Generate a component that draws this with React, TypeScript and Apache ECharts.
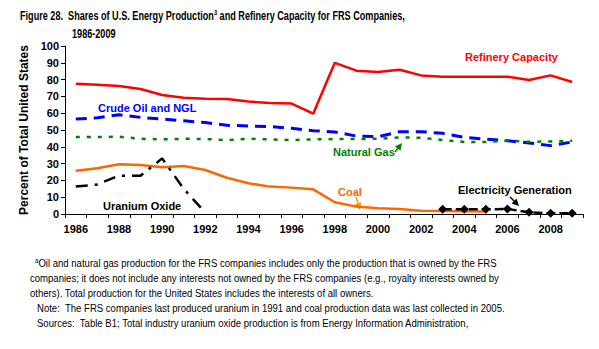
import React, { useEffect, useRef } from "react";
import * as echarts from "echarts";

const years = ["1986","1987","1988","1989","1990","1991","1992","1993","1994","1995","1996","1997","1998","1999","2000","2001","2002","2003","2004","2005","2006","2007","2008","2009"];
const refinery = [77.6, 77, 76.2, 74.4, 70.8, 69.2, 68.6, 68.5, 66.9, 66.1, 65.7, 59.7, 90, 85.3, 84.5, 85.9, 82.5, 81.7, 81.7, 81.7, 81.7, 79.8, 82.5, 78.6];
const crudeOil = [56.5, 57.3, 59.1, 57.5, 56.5, 55.5, 54.4, 52.8, 52.4, 52, 51, 49.6, 48.8, 46.4, 46, 49, 49, 48, 45.6, 44.6, 43.6, 42.3, 40.7, 42.9];
const naturalGas = [45.8, 45.8, 46, 44.8, 44.4, 44.8, 44.6, 44, 44.8, 44.4, 44, 44.4, 44.6, 44.6, 44.8, 45.6, 45.4, 44, 42.9, 42.9, 43.6, 43, 43.2, 43.6];
const coal = [25.8, 27.2, 29.6, 29.2, 27.8, 28.6, 26.2, 21.6, 18.3, 16.3, 15.7, 14.7, 7, 4.4, 3.4, 3, 2, 1.8, 1.6, 1.5, null, null, null, null];
const uranium = [16.3, 17.6, 22.8, 22.8, 33.1, 15, 0.8, null, null, null, null, null, null, null, null, null, null, null, null, null, null, null, null, null];
const electricity = [null, null, null, null, null, null, null, null, null, null, null, null, null, null, null, null, null, 2.8, 2.8, 2.8, 3, 1, 0.4, 0.4];

const titleLine1a = "Figure 28.  Shares of U.S. Energy Production";
const titleLine1b = " and Refinery Capacity for FRS Companies,";
const titleLine2 = "1986-2009";
const footnotes = [
  "Oil and natural gas production for the FRS companies includes only the production that is owned by the FRS",
  "companies; it does not include any interests not owned by the FRS companies (e.g., royalty interests owned by",
  "others). Total production for the United States includes the interests of all owners.",
  "Note:  The FRS companies last produced uranium in 1991 and coal production data was last collected in 2005.",
  "Sources:  Table B1; Total industry uranium oxide production is from Energy Information Administration,",
];

const ARIAL = "'Liberation Sans', Arial, sans-serif";
const TITLE_FONT = `bold 13px ${ARIAL}`;
const TITLE_SUP_FONT = `bold 8px ${ARIAL}`;
const NOTE_FONT = `11px ${ARIAL}`;

function measure(text: string, font: string) {
  const ctx = document.createElement("canvas").getContext("2d");
  if (!ctx) return text.length * 6;
  ctx.font = font;
  return ctx.measureText(text).width;
}

function arrow(x1: number, y1: number, x2: number, y2: number, color: string) {
  const dx = x2 - x1, dy = y2 - y1;
  const len = Math.sqrt(dx * dx + dy * dy);
  const ux = dx / len, uy = dy / len;
  const hl = 7, hw = 3.5;
  const bx = x2 - ux * hl, by = y2 - uy * hl;
  return {
    type: "group",
    children: [
      { type: "line", shape: { x1, y1, x2: bx, y2: by }, style: { stroke: color, lineWidth: 1.5 } },
      {
        type: "polygon",
        shape: { points: [[x2, y2], [bx - uy * hw, by + ux * hw], [bx + uy * hw, by - ux * hw]] },
        style: { fill: color },
      },
    ],
  };
}

export default function App() {
  const ref = useRef<HTMLDivElement>(null);
  useEffect(() => {
    if (!ref.current) return;
    const chart = echarts.init(ref.current, null, { renderer: "svg" });
    const titleW = measure(titleLine1a + titleLine1b, TITLE_FONT) + measure("3", TITLE_SUP_FONT);
    const titleScale = 385 / titleW;
    const noteScale = 469 / measure(footnotes[1], NOTE_FONT);
    const label = (text: string, x: number, y: number, color: string) => ({
      type: "text",
      x,
      y,
      style: { text, fill: color, font: `bold 11px ${ARIAL}`, textVerticalAlign: "middle" },
    });
    chart.setOption({
      animation: false,
      backgroundColor: "#ffffff",
      grid: { left: 65, right: 16, top: 46, bottom: 135, containLabel: false, outerBoundsMode: "none" },
      xAxis: {
        type: "category",
        data: years,
        boundaryGap: true,
        axisLine: { lineStyle: { color: "#000", width: 1 } },
        axisTick: { show: true, interval: 0, length: 4, lineStyle: { color: "#000" } },
        axisLabel: { interval: 1, color: "#000", fontWeight: "bold", fontSize: 11, fontFamily: ARIAL, margin: 9 },
        splitLine: { show: false },
      },
      yAxis: {
        type: "value",
        min: 0,
        max: 100,
        interval: 10,
        name: "Percent of Total United States",
        nameLocation: "middle",
        nameRotate: 90,
        nameGap: 31,
        nameTextStyle: { color: "#000", fontWeight: "bold", fontSize: 12, fontFamily: ARIAL },
        axisLine: { show: true, lineStyle: { color: "#000", width: 1 } },
        axisTick: { show: true, length: 4, lineStyle: { color: "#000" } },
        axisLabel: { color: "#000", fontWeight: "bold", fontSize: 11, fontFamily: ARIAL, margin: 6 },
        splitLine: { show: false },
      },
      series: [
        { name: "Refinery Capacity", type: "line", data: refinery, symbol: "none", lineStyle: { color: "#ff0000", width: 2.5 } },
        { name: "Crude Oil and NGL", type: "line", data: crudeOil, symbol: "none", lineStyle: { color: "#0000ff", width: 3, type: [11, 7] } },
        { name: "Natural Gas", type: "line", data: naturalGas, symbol: "none", lineStyle: { color: "#008000", width: 2.5, type: [4, 7] } },
        { name: "Coal", type: "line", data: coal, symbol: "none", lineStyle: { color: "#ff6600", width: 2.5 } },
        { name: "Uranium Oxide", type: "line", data: uranium, symbol: "none", lineStyle: { color: "#000", width: 2.5, type: [12, 7, 3, 7] } },
        {
          name: "Electricity Generation", type: "line", data: electricity, symbol: "diamond", symbolSize: 9,
          itemStyle: { color: "#000" }, lineStyle: { color: "#000", width: 2.5, type: [9, 4] },
        },
      ],
      graphic: [
        {
          type: "text", x: 20, y: 15, scaleX: titleScale,
          style: {
            text: `{a|${titleLine1a}}{s|3}{a|${titleLine1b}}`,
            textVerticalAlign: "middle",
            rich: {
              a: { font: TITLE_FONT, fill: "#000" },
              s: { font: TITLE_SUP_FONT, fill: "#000", verticalAlign: "top", padding: [0, 0, 6, 0] },
            },
          },
        },
        { type: "text", x: 72, y: 33, scaleX: titleScale, style: { text: titleLine2, font: TITLE_FONT, fill: "#000", textVerticalAlign: "middle" } },
        label("Refinery Capacity", 465, 57, "#ff0000"),
        label("Crude Oil and NGL", 98, 108, "#0000ff"),
        label("Natural Gas", 333, 152, "#008000"),
        label("Coal", 338, 192, "#ff6600"),
        label("Electricity Generation", 458, 190, "#000"),
        label("Uranium Oxide", 103, 206, "#000"),
        arrow(395, 152, 402, 143, "#008000"),
        arrow(356, 197, 360, 210, "#ff9900"),
        arrow(510, 197, 519, 206, "#000"),
        {
          type: "text", x: 35, y: 263, scaleX: noteScale,
          style: {
            text: `{s|a}{f|${footnotes[0]}}`,
            textVerticalAlign: "middle",
            rich: {
              f: { font: NOTE_FONT, fill: "#000" },
              s: { font: `7px ${ARIAL}`, fill: "#000", verticalAlign: "top", padding: [0, 0, 5, 0] },
            },
          },
        },
        ...footnotes.slice(1).map((t, i) => ({
          type: "text", x: i < 2 ? 30 : 37, y: 278 + i * 15, scaleX: noteScale,
          style: { text: t, font: NOTE_FONT, fill: "#000", textVerticalAlign: "middle" },
        })),
      ],
    });
    return () => chart.dispose();
  }, []);
  return (
    <div
      ref={ref}
      style={{ position: "fixed", left: 0, top: 0, width: 599, height: 349, background: "#fff" }}
    />
  );
}
